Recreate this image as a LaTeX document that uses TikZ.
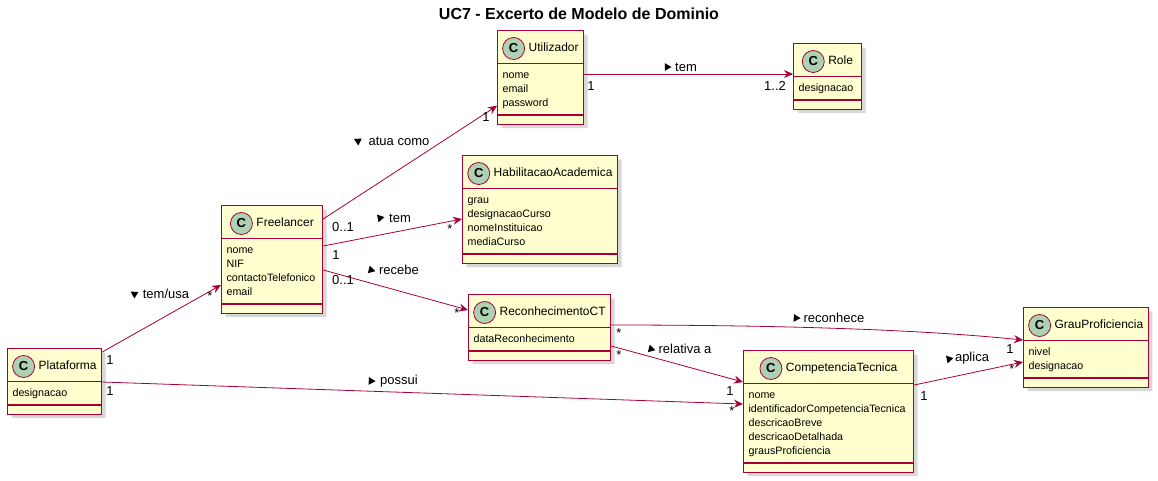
\documentclass[tikz,border=0pt]{standalone}
\usepackage{fontspec}
\setmainfont{Liberation Sans}
\usepackage{tikz}
\usetikzlibrary{shapes.multipart, shapes.geometric, shadows, arrows.meta, calc, positioning}

\definecolor{umlborder}{HTML}{A80036}
\definecolor{umlfill}{HTML}{FEFECE}
\definecolor{umlbadge}{HTML}{ADD1B2}

\tikzset{
umlclass/.style={rectangle split, rectangle split parts=3, draw=umlborder, line width=1.2pt, fill=umlfill,
  rectangle split part align={center,left,left}, inner xsep=5pt, inner ysep=0pt, anchor=north west,
  drop shadow={shadow xshift=4pt, shadow yshift=-4pt, fill=black!30},
  font=\fontsize{10.7}{14}\selectfont}, % class box: name, attributes, methods
badge/.style={circle, draw=umlborder, line width=0.8pt, fill=umlbadge, minimum size=22pt, inner sep=0pt,
  font=\fontsize{13}{13}\selectfont\bfseries},
assoc/.style={draw=umlborder, line width=0.8pt, -{Stealth[length=9pt,width=8pt,inset=3pt]}},
lbl/.style={font=\fontsize{13}{15}\selectfont, inner sep=0pt},
mult/.style={font=\fontsize{13}{15}\selectfont, inner sep=0pt},
dirtri/.style={regular polygon, regular polygon sides=3, fill=black, inner sep=0pt,
  minimum size=9pt, shape border rotate=#1-90}, % reading direction of a label
dirtri/.default=0,
}

\newcommand{\cname}[1]{\rule[-12pt]{0pt}{32pt}\hspace*{26pt}{\fontsize{12}{14}\selectfont #1}}
\newcommand{\attrs}[1]{\begin{tabular}{@{}l@{}}\rule{0pt}{14pt}#1\rule[-8pt]{0pt}{8pt}\end{tabular}}
\newcommand{\noops}{\rule{0pt}{8pt}}

\begin{document}
\begin{tikzpicture}[x=1pt, y=-1pt]
\useasboundingbox (0,0) rectangle (1158,480);

\node[font=\fontsize{16}{18}\selectfont\bfseries] (title) at (579,14) {UC7 - Excerto de Modelo de Dominio};

% classes
\node[umlclass, minimum width=84pt] (util) at (497,30) {\cname{Utilizador}\nodepart{two}\attrs{nome\\email\\password}\nodepart{three}\noops};
\node[umlclass, minimum width=68pt] (role) at (793,43) {\cname{Role}\nodepart{two}\attrs{designacao}\nodepart{three}\noops};
\node[umlclass, minimum width=101pt] (free) at (221,205) {\cname{Freelancer}\nodepart{two}\attrs{nome\\NIF\\contactoTelefonico\\email}\nodepart{three}\noops};
\node[umlclass, minimum width=155pt] (habil) at (462,155) {\cname{HabilitacaoAcademica}\nodepart{two}\attrs{grau\\designacaoCurso\\nomeInstituicao\\mediaCurso}\nodepart{three}\noops};
\node[umlclass, minimum width=142pt] (recon) at (468,294) {\cname{ReconhecimentoCT}\nodepart{two}\attrs{dataReconhecimento}\nodepart{three}\noops};
\node[umlclass, minimum width=93pt] (plat) at (7,348) {\cname{Plataforma}\nodepart{two}\attrs{designacao}\nodepart{three}\noops};
\node[umlclass, minimum width=170pt] (comp) at (743,350) {\cname{CompetenciaTecnica}\nodepart{two}\attrs{nome\\identificadorCompetenciaTecnica\\descricaoBreve\\descricaoDetalhada\\grausProficiencia}\nodepart{three}\noops};
\node[umlclass, minimum width=122pt] (grau) at (1023,307) {\cname{GrauProficiencia}\nodepart{two}\attrs{nivel\\designacao}\nodepart{three}\noops};

% class badges
\foreach \c in {util, role, free, habil, recon, plat, comp, grau}
  \node[badge] (\c C) at ([xshift=11pt, yshift=2.7pt]\c.text) {C};

% associations
\draw[assoc] ($(free.north east)+(0,14)$) -- ($(util.south west)+(0,-19)$);
\draw[assoc] ($(free.north east)+(0,41)$) -- ($(habil.north west)+(0,64)$);
\draw[assoc] ($(free.north east)+(0,65)$) -- ($(recon.north west)+(0,16)$);
\draw[assoc] ($(util.north east)+(0,44)$) -- ($(role.north west)+(0,31)$);
\draw[assoc] ($(plat.north east)+(0,4)$) -- ($(free.north west)+(0,80)$);
\draw[assoc] ($(plat.north east)+(0,34)$) -- ($(comp.north west)+(0,54)$);
\draw[assoc] ($(recon.north east)+(0,31)$) .. controls +(250,0) and +(-50,-5) .. ($(grau.north west)+(0,33)$);
\draw[assoc] ($(recon.north east)+(0,52)$) -- ($(comp.north west)+(0,32)$);
\draw[assoc] ($(comp.north east)+(0,35)$) -- ($(grau.north west)+(0,55)$);

% labels
\node[dirtri=34] (atuaD) at (358,141) {};
\node[lbl] (atuaL) at (399,141) {atua como};
\node[dirtri=11] (temhD) at (380,218) {};
\node[lbl] (temhL) at (400,218) {tem};
\node[dirtri=-15] (recebeD) at (371,270) {};
\node[lbl] (recebeL) at (399,270) {recebe};
\node[dirtri] (temrD) at (667,67) {};
\node[lbl] (temrL) at (686,67) {tem};
\node[dirtri=29] (usaD) at (134.5,294) {};
\node[lbl] (usaL) at (166,294) {tem/usa};
\node[dirtri=-2] (possuiD) at (371,381) {};
\node[lbl] (possuiL) at (399,381) {possui};
\node[dirtri=-2] (reconheceD) at (796,318) {};
\node[lbl] (reconheceL) at (834,318) {reconhece};
\node[dirtri=-15] (relativaD) at (651,349) {};
\node[lbl] (relativaL) at (685,349) {relativa a};
\node[dirtri=12] (aplicaD) at (949,359) {};
\node[lbl] (aplicaL) at (972,358) {aplica};

% multiplicities
\node[mult] (m1) at (343,227) {0..1};
\node[mult] (m2) at (486,117) {1};
\node[mult] (m3) at (336,255) {1};
\node[mult] (m4) at (450,229) {*};
\node[mult] (m5) at (343,280) {0..1};
\node[mult] (m6) at (457,313) {*};
\node[mult] (m7) at (591,86) {1};
\node[mult] (m8) at (775,86) {1..2};
\node[mult] (m9) at (110,360) {1};
\node[mult] (m10) at (210,296) {*};
\node[mult] (m11) at (110,391) {1};
\node[mult] (m12) at (732,411) {*};
\node[mult] (m13) at (619,333) {*};
\node[mult] (m14) at (1010,349) {1};
\node[mult] (m15) at (619,355) {*};
\node[mult] (m16) at (730,391) {1};
\node[mult] (m17) at (924,396) {1};
\node[mult] (m18) at (1012,369) {*};
\end{tikzpicture}
\end{document}
